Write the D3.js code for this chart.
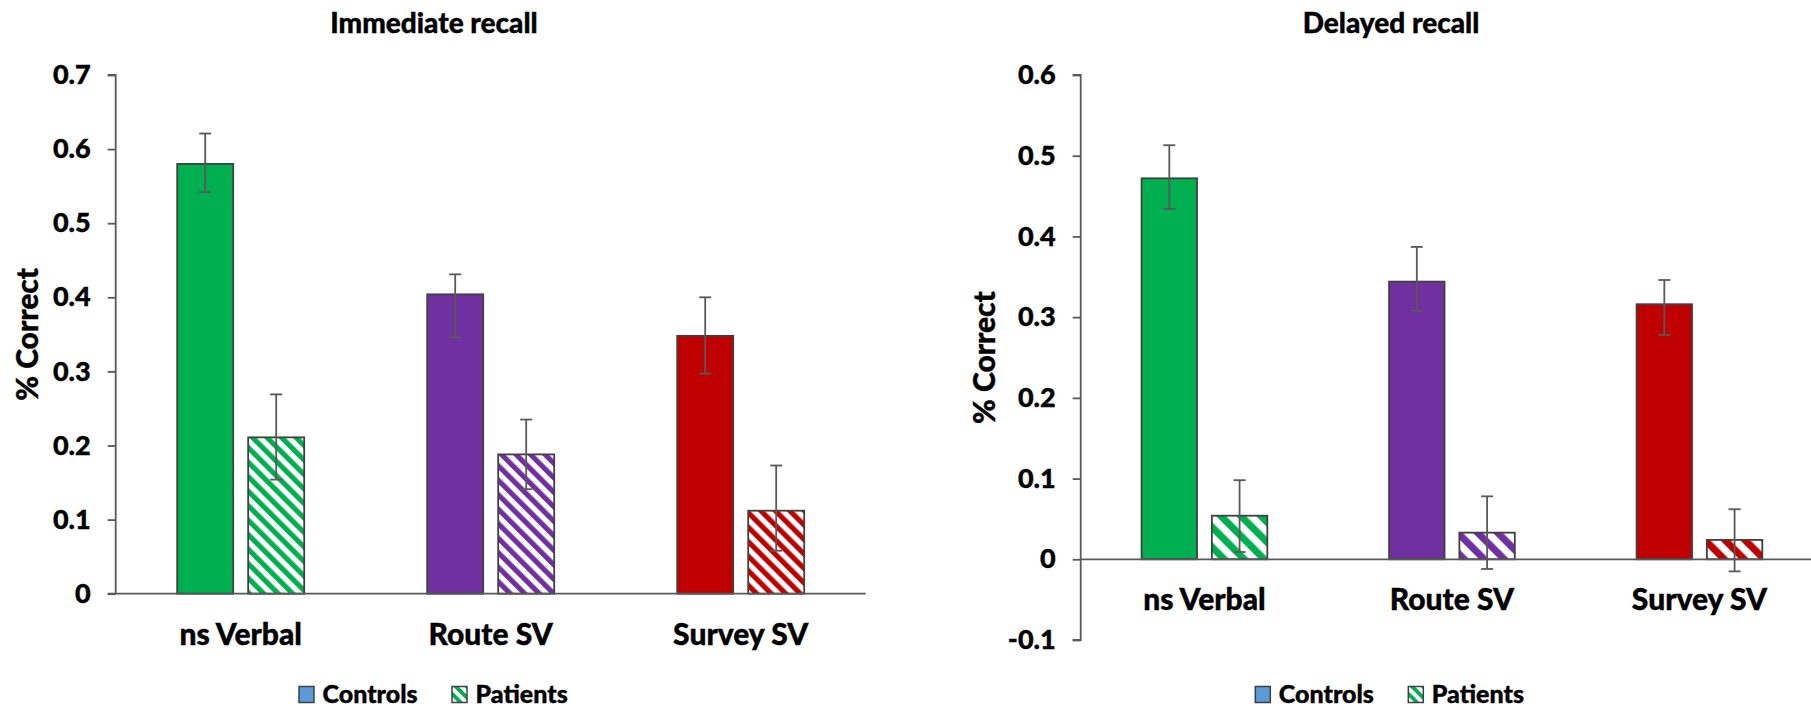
<!DOCTYPE html>
<html>
<head>
<meta charset="utf-8">
<script src="https://cdn.jsdelivr.net/npm/d3@7"></script>
<style>
  body { margin: 0; background: #fff; }
  text { font-family: Lato, "Open Sans", sans-serif; font-weight: 900; fill: #000; stroke: #000; stroke-width: 0.4px; }
</style>
</head>
<body>
<svg id="chart" width="1811" height="710"></svg>
<script>
// categories and series
var categories = ["ns Verbal", "Route SV", "Survey SV"];
var seriesNames = ["Controls", "Patients"];
var barColors = ["#00B050", "#7030A0", "#C00000"];

// immediate recall: means and error bar bounds
var immControls = [0.580, 0.404, 0.348];
var immControlsHi = [0.621, 0.431, 0.400];
var immControlsLo = [0.542, 0.346, 0.297];
var immPatients = [0.211, 0.188, 0.112];
var immPatientsHi = [0.269, 0.235, 0.173];
var immPatientsLo = [0.154, 0.141, 0.058];

// delayed recall
var delControls = [0.472, 0.344, 0.316];
var delControlsHi = [0.513, 0.387, 0.346];
var delControlsLo = [0.434, 0.308, 0.278];
var delPatients = [0.054, 0.033, 0.024];
var delPatientsHi = [0.098, 0.078, 0.062];
var delPatientsLo = [0.009, -0.012, -0.015];

var immTicks = [0, 0.1, 0.2, 0.3, 0.4, 0.5, 0.6, 0.7];
var delTicks = [-0.1, 0, 0.1, 0.2, 0.3, 0.4, 0.5, 0.6];

var svg = d3.select("#chart");
var defs = svg.append("defs");

var axisColor = "#595959";
var errColor = "#595959";
var barStroke = "#404040";

// hatch patterns (wide downward diagonal)
function makeHatch(id, color, period) {
  var w = period * Math.SQRT1_2;
  var p = defs.append("pattern")
    .attr("id", id)
    .attr("patternUnits", "userSpaceOnUse")
    .attr("width", w)
    .attr("height", w)
    .attr("patternTransform", "rotate(-45)");
  p.append("rect").attr("width", w).attr("height", w).attr("fill", "#fff");
  p.append("rect").attr("width", w / 2).attr("height", w).attr("fill", color);
}
barColors.forEach(function(c, i) {
  makeHatch("hatchL" + i, c, 14.5);
  makeHatch("hatchR" + i, c, 20);
});
makeHatch("hatchLegend", "#00B050", 11);

var panels = [
  { title: "Immediate recall", titleX: 434, key: "L",
    left: 115.7, band: 250, top: 75, bottom: 593.7, domain: [0, 0.7], ticks: immTicks,
    ylabX: 27.5, legendX: 298.5,
    ctrl: immControls, ctrlHi: immControlsHi, ctrlLo: immControlsLo,
    pat: immPatients, patHi: immPatientsHi, patLo: immPatientsLo },
  { title: "Delayed recall", titleX: 1391, key: "R",
    left: 1080.7, band: 247.5, top: 75, bottom: 640, domain: [-0.1, 0.6], ticks: delTicks,
    ylabX: 984, legendX: 1254.8,
    ctrl: delControls, ctrlHi: delControlsHi, ctrlLo: delControlsLo,
    pat: delPatients, patHi: delPatientsHi, patLo: delPatientsLo }
];

panels.forEach(function(P) {
  var g = svg.append("g");

  var y = d3.scaleLinear().domain(P.domain).range([P.bottom, P.top]);
  var x0 = d3.scaleBand().domain(categories)
    .range([P.left, P.left + P.band * categories.length]);
  var groupW = x0.bandwidth() * 0.508;
  var x1 = d3.scaleBand().domain(seriesNames).range([0, groupW]).paddingInner(0.211);
  var off = (x0.bandwidth() - groupW) / 2;

  // title
  g.append("text")
    .attr("x", P.titleX).attr("y", 33)
    .attr("text-anchor", "middle")
    .style("font-size", "28px")
    .text(P.title);

  // y axis (plain hyphen for negatives, as in the original)
  var yAxis = d3.axisLeft(y).tickValues(P.ticks).tickSize(8).tickPadding(17)
    .tickFormat(function(d) { return d === 0 ? "0" : d.toFixed(1); });
  var ya = g.append("g")
    .attr("transform", "translate(" + P.left + ",0)")
    .call(yAxis);
  ya.select(".domain").attr("stroke", axisColor).attr("stroke-width", 1.8)
    .attr("d", "M-8," + P.top + "H0V" + P.bottom + (P.domain[0] < 0 ? "H-8" : ""));
  ya.selectAll(".tick line").attr("stroke", axisColor).attr("stroke-width", 1.8);
  ya.selectAll(".tick text")
    .style("font-size", "27px")
    .style("font-family", "Lato, sans-serif")
    .style("font-weight", "900")
    .attr("fill", "#000");

  // y axis title
  g.append("text")
    .attr("transform", "translate(" + P.ylabX + "," + ((P.top + P.bottom) / 2) + ") rotate(-90)")
    .attr("text-anchor", "middle")
    .attr("dy", "0.35em")
    .style("font-size", "30px")
    .text("% Correct");

  // data rows
  var rows = [];
  categories.forEach(function(c, i) {
    rows.push({ cat: c, ci: i, s: "Controls", v: P.ctrl[i], hi: P.ctrlHi[i], lo: P.ctrlLo[i] });
    rows.push({ cat: c, ci: i, s: "Patients", v: P.pat[i], hi: P.patHi[i], lo: P.patLo[i] });
  });

  // bars
  g.selectAll(".bar")
    .data(rows)
    .enter()
    .append("rect")
      .attr("class", "bar")
      .attr("x", function(d) { return x0(d.cat) + off + x1(d.s); })
      .attr("y", function(d) { return y(d.v); })
      .attr("width", x1.bandwidth())
      .attr("height", function(d) { return y(0) - y(d.v); })
      .attr("fill", function(d) {
        return d.s === "Controls" ? barColors[d.ci] : "url(#hatch" + P.key + d.ci + ")";
      })
      .attr("stroke", barStroke)
      .attr("stroke-width", 1.8);

  // x axis line at zero
  g.append("line")
    .attr("x1", P.left - (P.domain[0] < 0 ? 0 : 8)).attr("x2", x0.range()[1])
    .attr("y1", y(0)).attr("y2", y(0))
    .attr("stroke", axisColor).attr("stroke-width", 1.8);

  // error bars
  var eb = g.selectAll(".err").data(rows).enter().append("g").attr("class", "err")
    .attr("stroke", errColor).attr("stroke-width", 1.8);
  function cx(d) { return x0(d.cat) + off + x1(d.s) + x1.bandwidth() / 2; }
  eb.append("line")
    .attr("x1", cx).attr("x2", cx)
    .attr("y1", function(d) { return y(d.hi); })
    .attr("y2", function(d) { return y(d.lo); });
  eb.append("line")
    .attr("x1", function(d) { return cx(d) - 6; }).attr("x2", function(d) { return cx(d) + 6; })
    .attr("y1", function(d) { return y(d.hi); }).attr("y2", function(d) { return y(d.hi); });
  eb.append("line")
    .attr("x1", function(d) { return cx(d) - 6; }).attr("x2", function(d) { return cx(d) + 6; })
    .attr("y1", function(d) { return y(d.lo); }).attr("y2", function(d) { return y(d.lo); });

  // category labels
  g.selectAll(".cat")
    .data(categories)
    .enter()
    .append("text")
      .attr("class", "cat")
      .attr("x", function(d) { return x0(d) + x0.bandwidth() / 2; })
      .attr("y", y(0) + 51)
      .attr("text-anchor", "middle")
      .style("font-size", "30px")
      .text(function(d) { return d; });

  // legend
  var lg = g.append("g").attr("transform", "translate(" + P.legendX + ",686)");
  lg.append("rect").attr("x", 0.5).attr("y", 0.5).attr("width", 15).attr("height", 16)
    .attr("fill", "#5B9BD5").attr("stroke", "#404040").attr("stroke-width", 1.5);
  lg.append("text").attr("x", 24).attr("y", 17).style("font-size", "25px").text("Controls");
  lg.append("rect").attr("x", 153.5).attr("y", 0.5).attr("width", 15).attr("height", 16)
    .attr("fill", "url(#hatchLegend)").attr("stroke", "#404040").attr("stroke-width", 1.5);
  lg.append("text").attr("x", 177).attr("y", 17).style("font-size", "25px").text("Patients");
});
</script>
</body>
</html>
